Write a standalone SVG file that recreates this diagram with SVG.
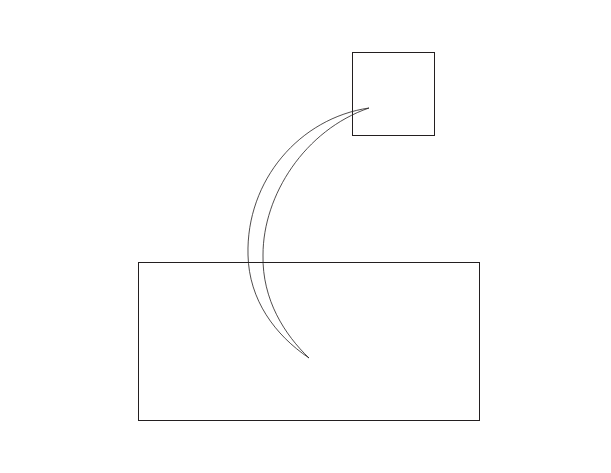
<svg xmlns="http://www.w3.org/2000/svg" width="611" height="473" viewBox="0 0 611 473">
<style>
.box{fill:none;stroke:#231f20;stroke-width:1}
.conn{fill:none;stroke:#231f20;stroke-width:0.8}
</style>
<rect width="611" height="473" fill="#fff"/>
<g id="small-box"><rect class="box" x="352.5" y="52.5" width="82" height="83"/></g>
<g id="large-box"><rect class="box" x="138.5" y="262.5" width="341" height="158"/></g>
<g id="connectors">
<path class="conn" d="M369,108 C300,118 246,180 248,255 C249,300 275,335 309,358 C285,335 262,300 263,255 C263,195 305,130 369,108 Z"/>
</g>
</svg>
